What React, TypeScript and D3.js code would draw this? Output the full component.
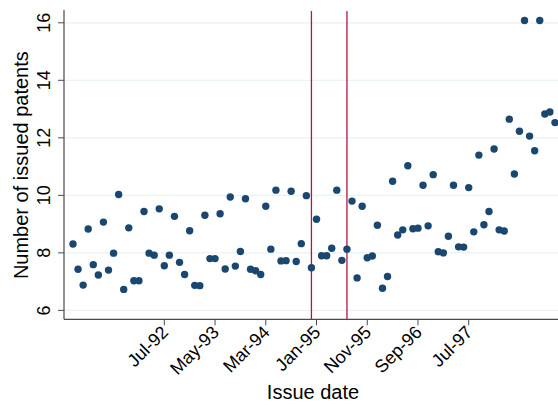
import React from "react";
import * as d3 from "d3";

const patents: number[] = [
  8.31, 7.43, 6.88, 8.83, 7.59, 7.23, 9.07, 7.4, 7.99, 10.03,
  6.73, 8.87, 7.03, 7.03, 9.44, 7.99, 7.92, 9.53, 7.55, 7.92,
  9.27, 7.67, 7.25, 8.77, 6.87, 6.86, 9.31, 7.8, 7.8, 9.36,
  7.44, 9.94, 7.54, 8.05, 9.88, 7.43, 7.38, 7.25, 9.62, 8.13,
  10.18, 7.72, 7.73, 10.14, 7.7, 8.32, 9.99, 7.48, 9.17, 7.9,
  7.9, 8.16, 10.18, 7.74, 8.13, 9.8, 7.13, 9.62, 7.83, 7.89,
  8.96, 6.77, 7.18, 10.49, 8.62, 8.8, 11.03, 8.84, 8.86, 10.35,
  8.94, 10.72, 8.04, 8.0, 8.58, 10.35, 8.21, 8.2, 10.27, 8.73,
  11.4, 8.98, 9.44, 11.61, 8.8, 8.76, 12.65, 10.74, 12.23, 16.08,
  12.06, 11.55, 16.08, 12.83, 12.9, 12.53,
];
const startDate = new Date(1991, 0, 1);
const months: Date[] = patents.map((_, i) => d3.timeMonth.offset(startDate, i));
const xTickDates: Date[] = [
  new Date(1992, 6, 1), new Date(1993, 4, 1), new Date(1994, 2, 1),
  new Date(1995, 0, 1), new Date(1995, 10, 1), new Date(1996, 8, 1),
  new Date(1997, 6, 1),
];
const xTickLabels: string[] = ["Jul-92", "May-93", "Mar-94", "Jan-95", "Nov-95", "Sep-96", "Jul-97"];
const yTicks: number[] = [6, 8, 10, 12, 14, 16];
const eventDates: Date[] = [new Date(1994, 11, 1), new Date(1995, 6, 1)];

const W = 558;
const H = 405;
const left = 64;
const right = 558;
const top = 11;
const bottom = 319.3;

const monthIndex = (d: Date) => d3.timeMonth.count(startDate, d);

export default function App() {
  const x = d3.scaleLinear().domain([-1.77, 95.6]).range([left, right]);
  const y = d3.scaleLinear().domain([5.69, 16.41]).range([bottom, top]);
  const font = "'Liberation Sans', Arial, Helvetica, sans-serif";
  const axisColor = "#4a4a4a";
  return (
    <svg
      width={W}
      height={H}
      style={{ position: "absolute", left: 0, top: 0, background: "#fff" }}
      fontFamily={font}
    >
      {yTicks.map((t) => (
        <line key={"g" + t} x1={left} x2={right} y1={y(t)} y2={y(t)} stroke="#eaf2f3" strokeWidth={1.2} />
      ))}
      {eventDates.map((d, i) => (
        <line key={"e" + i} x1={x(monthIndex(d))} x2={x(monthIndex(d))} y1={top} y2={bottom} stroke="#b5163d" strokeWidth={1.3} />
      ))}
      {patents.map((v, i) => (
        <circle key={"p" + i} cx={x(monthIndex(months[i]))} cy={y(v)} r={3.7} fill="#1a476f" />
      ))}
      <line x1={left} x2={left} y1={top - 1} y2={bottom} stroke={axisColor} strokeWidth={1.2} />
      <line x1={left} x2={right} y1={bottom} y2={bottom} stroke={axisColor} strokeWidth={1.2} />
      {yTicks.map((t) => (
        <g key={"yt" + t}>
          <line x1={left - 6} x2={left} y1={y(t)} y2={y(t)} stroke={axisColor} strokeWidth={1} />
          <text
            transform={`translate(${left - 14.5},${y(t)}) rotate(-90)`}
            textAnchor="middle"
            fontSize={18}
            fill="#000"
          >
            {t}
          </text>
        </g>
      ))}
      {xTickDates.map((d, i) => {
        const px = x(monthIndex(d));
        return (
          <g key={"xt" + i}>
            <line x1={px} x2={px} y1={bottom} y2={bottom + 6} stroke={axisColor} strokeWidth={1} />
            <text
              transform={`translate(${px + 5},${bottom + 14}) rotate(-45)`}
              textAnchor="end"
              fontSize={18}
              fill="#000"
            >
              {xTickLabels[i]}
            </text>
          </g>
        );
      })}
      <text x={313} y={399} textAnchor="middle" fontSize={20} fill="#000">
        Issue date
      </text>
      <text
        transform={`translate(28,${(top + bottom) / 2}) rotate(-90)`}
        textAnchor="middle"
        fontSize={20}
        fill="#000"
      >
        Number of issued patents
      </text>
    </svg>
  );
}
